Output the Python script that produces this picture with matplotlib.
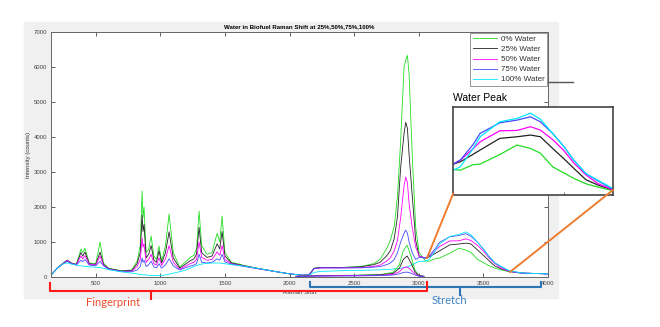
import matplotlib
matplotlib.use('Agg')
import matplotlib.pyplot as plt
from matplotlib.lines import Line2D
from matplotlib.patches import Rectangle

plt.rcParams['font.family'] = ['Liberation Sans', 'DejaVu Sans']

# Raman shift (cm^-1) sample points
shift = [154, 200, 250, 280, 310, 350, 386, 400, 417, 450,
         500, 534, 560, 600, 700, 780, 820, 845, 859, 866,
         874, 890, 910, 929, 950, 970, 990, 1010, 1040, 1068,
         1100, 1150, 1200, 1230, 1260, 1280, 1300, 1320, 1360, 1400,
         1440, 1460, 1478, 1500, 1550, 1650, 1750, 1900, 2000, 2100,
         2150, 2190, 2240, 2400, 2550, 2650, 2700, 2750, 2780, 2810,
         2835, 2860, 2886, 2899, 2912, 2925, 2950, 2976, 3002, 3051,
         3080, 3130, 3160, 3240, 3310, 3365, 3405, 3455, 3500, 3540,
         3590, 3640, 3700, 3800, 3900, 4000]

water0 = [50, 250, 400, 480, 400, 360, 800, 700, 820, 400,
          380, 1000, 400, 250, 180, 200, 450, 900, 2450, 1700,
          2000, 700, 800, 1170, 600, 500, 880, 450, 900, 1800,
          700, 280, 450, 560, 620, 800, 1880, 900, 650, 700,
          1250, 1000, 1740, 700, 420, 330, 250, 150, 90, 50,
          60, 250, 270, 270, 300, 380, 500, 800, 1050, 1450,
          2300, 3900, 6000, 6200, 6330, 5800, 3430, 1430, 700, 460,
          450, 530, 540, 680, 820, 770, 700, 500, 410, 330,
          250, 200, 150, 110, 100, 90]

water25 = [50, 250, 400, 480, 400, 360, 700, 600, 710, 380,
           360, 710, 360, 240, 170, 190, 380, 700, 1770, 1300,
           1500, 550, 650, 900, 480, 420, 750, 400, 700, 1290,
           550, 250, 380, 460, 520, 650, 1420, 700, 560, 600,
           950, 800, 1300, 600, 400, 320, 250, 150, 90, 50,
           60, 250, 270, 270, 290, 350, 420, 600, 750, 1100,
           1720, 3140, 4100, 4420, 4250, 3500, 2300, 1050, 600, 540,
           574, 680, 746, 918, 942, 967, 942, 770, 620, 480,
           310, 230, 160, 110, 100, 90]

water50 = [50, 250, 390, 470, 390, 350, 600, 520, 610, 360,
           340, 600, 340, 230, 160, 170, 300, 500, 1110, 850,
           950, 420, 500, 650, 380, 340, 550, 330, 520, 900,
           420, 220, 320, 380, 420, 500, 1000, 560, 480, 500,
           720, 620, 900, 500, 380, 310, 240, 150, 90, 50,
           60, 240, 260, 260, 270, 300, 340, 450, 550, 750,
           1050, 1700, 2600, 2860, 2700, 2100, 1400, 860, 600, 540,
           600, 760, 868, 1030, 1035, 1090, 1040, 900, 740, 560,
           380, 250, 160, 110, 100, 90]

water75 = [50, 240, 380, 450, 380, 340, 480, 440, 500, 340,
           320, 450, 320, 220, 150, 150, 200, 300, 540, 420,
           480, 300, 350, 450, 290, 260, 380, 250, 350, 520,
           320, 200, 270, 310, 340, 380, 650, 420, 400, 420,
           520, 480, 650, 430, 370, 300, 240, 150, 90, 50,
           60, 240, 260, 260, 260, 280, 300, 350, 400, 500,
           690, 1000, 1250, 1340, 1250, 1000, 690, 500, 560, 540,
           600, 820, 991, 1148, 1187, 1236, 1162, 990, 800, 600,
           400, 290, 170, 115, 100, 90]

water100 = [50, 250, 380, 400, 370, 340, 320, 310, 300, 290,
            280, 270, 250, 210, 150, 110, 90, 70, 65, 60,
            60, 55, 50, 45, 42, 40, 40, 42, 60, 80,
            110, 150, 200, 250, 300, 330, 350, 370, 390, 400,
            400, 400, 390, 380, 350, 310, 250, 150, 90, 50,
            55, 130, 160, 180, 190, 200, 205, 215, 220, 230,
            240, 250, 270, 280, 290, 310, 350, 400, 450, 450,
            500, 760, 942, 1162, 1212, 1290, 1200, 991, 800, 600,
            400, 300, 180, 115, 100, 90]

# second (baseline-level) set of spectra in the C-H region
shift_low = [2050, 2200, 2500, 2700, 2800, 2850, 2880, 2910, 2940, 2970, 3000, 3040]
low0 = [20, 40, 50, 70, 130, 350, 750, 910, 600, 200, 50, 20]
low25 = [20, 35, 45, 60, 100, 250, 500, 600, 400, 150, 40, 20]
low50 = [20, 30, 40, 50, 75, 150, 260, 290, 200, 90, 30, 20]
low75 = [15, 25, 30, 40, 55, 90, 130, 140, 110, 60, 25, 15]

labels = ['0% Water', '25% Water', '50% Water', '75% Water', '100% Water']
colors = ['#22dd22', '#222222', '#ff00ff', '#4848ff', '#00e8ff']
series = [water0, water25, water50, water75, water100]
lows = [low0, low25, low50, low75]

W, H = 660, 327


def fx(x):
    return x / W


def fy(y):
    return 1 - y / H


fig = plt.figure(figsize=(6.6, 3.27), dpi=100)
fig.patches.append(Rectangle((fx(24), fy(298)), 534 / W, 276 / H, color='#f0f0f0',
                             transform=fig.transFigure, zorder=-5))

ax = fig.add_axes([fx(51), fy(277), 497 / W, 245 / H])
for s, c, lab in zip(series, colors, labels):
    ax.plot(shift, s, color=c, lw=0.6, label=lab)
for s, c in zip(lows, colors):
    ax.plot(shift_low, s, color=c, lw=0.6)
ax.set_xlim(154, 4000)
ax.set_ylim(0, 7000)
ax.set_xticks([500, 1000, 1500, 2000, 2500, 3000, 3500, 4000])
ax.set_yticks(range(0, 7001, 1000))
ax.tick_params(direction='in', length=3, width=0.6, labelsize=4.3, colors='#444444',
               top=True, right=True, pad=3)
for sp in ax.spines.values():
    sp.set_color('#666666')
    sp.set_linewidth(0.7)
ax.set_title('Water in Biofuel Raman Shift at 25%,50%,75%,100%', fontsize=4.4,
             fontweight='bold', pad=2.5)
ax.set_xlabel('Raman Shift', fontsize=4.3, labelpad=3, color='#333333')
ax.set_ylabel('Intensity (counts)', fontsize=4.3, labelpad=2, color='#333333')
leg = ax.legend(loc='upper right', fontsize=5.8, fancybox=False, edgecolor='#888888',
                borderaxespad=0.1, handlelength=3.0, labelspacing=0.3,
                borderpad=0.35, handletextpad=0.4, framealpha=1)
leg.get_frame().set_linewidth(0.6)
for t in leg.get_texts():
    t.set_color('#333333')

# zoomed inset of the water peak
axi = fig.add_axes([fx(453), fy(195), 160 / W, 88 / H])
for s, c in zip(series, colors):
    axi.plot(shift, s, color=c, lw=0.9)
axi.set_xlim(3050, 3700)
axi.set_ylim(85, 1380)
axi.set_xticks([3500])
axi.set_yticks([])
axi.set_xticklabels([])
axi.tick_params(direction='in', length=2, width=0.6, colors='#666666')
for sp in axi.spines.values():
    sp.set_color('#444444')
    sp.set_linewidth(1.2)
fig.text(fx(453), fy(98), 'Water Peak', fontsize=7.5, va='center', ha='left')

orange = '#ed7d31'
fig.lines.append(Line2D([fx(453), fx(427)], [fy(194), fy(258)], color=orange, lw=1.4,
                        transform=fig.transFigure))
fig.lines.append(Line2D([fx(613), fx(510)], [fy(190), fy(272)], color=orange, lw=1.4,
                        transform=fig.transFigure))
fig.lines.append(Line2D([fx(548), fx(573)], [fy(82), fy(82)], color='#555555', lw=1.0,
                        transform=fig.transFigure))

# brackets under the axis
red = '#ff1a1a'
blue = '#2e75b6'
fig.lines.append(Line2D([fx(310), fx(310), fx(541), fx(541)],
                        [fy(282), fy(287), fy(287), fy(282)], color=blue, lw=1.5,
                        transform=fig.transFigure))
fig.lines.append(Line2D([fx(460), fx(460)], [fy(287), fy(295)], color=blue, lw=1.5,
                        transform=fig.transFigure))
fig.lines.append(Line2D([fx(50), fx(50), fx(427), fx(427)],
                        [fy(283), fy(291), fy(291), fy(282)], color=red, lw=1.5,
                        transform=fig.transFigure))
fig.lines.append(Line2D([fx(151), fx(151)], [fy(291), fy(299)], color=red, lw=1.5,
                        transform=fig.transFigure))
fig.text(fx(113), fy(302), 'Fingerprint', fontsize=8, color='#ee4b2b', ha='center',
         va='center', family=['Lato', 'DejaVu Sans'])
fig.text(fx(449), fy(300), 'Stretch', fontsize=8, color='#3b82c4', ha='center',
         va='center', family=['Lato', 'DejaVu Sans'])

plt.savefig('out.png', dpi=100, facecolor='white')
